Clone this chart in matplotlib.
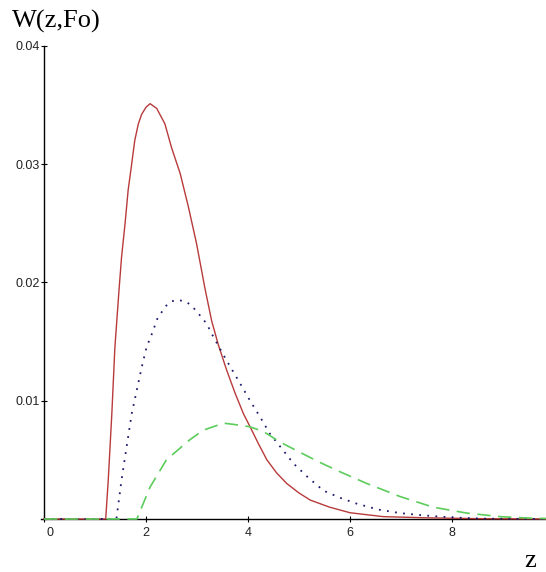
import matplotlib
matplotlib.use("Agg")
import matplotlib.pyplot as plt
import matplotlib.transforms as mtransforms

# curves (z, W)
z_red = [0, 1.21, 1.26, 1.33, 1.39, 1.47, 1.52, 1.59, 1.65, 1.71, 1.78, 1.85,
         1.915, 2.0, 2.08, 2.21, 2.37, 2.50, 2.67, 2.83, 2.99, 3.16, 3.29,
         3.42, 3.58, 3.75, 3.91, 4.04, 4.20, 4.37, 4.56, 4.76, 5.0, 5.22,
         5.6, 6.0, 6.65, 7.5, 8.5, 10]
w_red = [0, 0, 0.0033, 0.0089, 0.0145, 0.0193, 0.0221, 0.0250, 0.0278,
         0.0297, 0.0320, 0.0334, 0.0342, 0.0348, 0.0351, 0.0347, 0.0334,
         0.0314, 0.0292, 0.0264, 0.0233, 0.0194, 0.0167, 0.0147, 0.0126,
         0.0106, 0.0089, 0.0078, 0.0064, 0.0050, 0.0039, 0.0030, 0.0022,
         0.0016, 0.0010, 0.00053, 0.0002, 0.0001, 0.00003, 0]

z_blue = [0, 1.42, 1.52, 1.62, 1.72, 1.82, 1.92, 2.01, 2.12, 2.22, 2.31, 2.39,
          2.50, 2.63, 2.76, 2.88, 3.06, 3.19, 3.32, 3.58, 3.84, 4.04, 4.24,
          4.43, 4.69, 4.89, 5.18, 5.48, 5.8, 6.13, 6.55, 6.98, 7.46, 7.96,
          8.6, 10]
w_blue = [0, 0, 0.0033, 0.0061, 0.0089, 0.0109, 0.0129, 0.0145, 0.0157,
          0.0169, 0.0175, 0.0180, 0.0184, 0.0185, 0.0184, 0.0181, 0.0172,
          0.0165, 0.0154, 0.0134, 0.0115, 0.0100, 0.0086, 0.0072, 0.0058,
          0.0047, 0.0035, 0.0024, 0.0018, 0.0013, 0.0008, 0.0005, 0.0003,
          0.00014, 0.00003, 0]

z_green = [0, 1.82, 2.08, 2.40, 2.86, 3.12, 3.52, 3.71, 4.03, 4.30, 4.63,
           5.08, 5.45, 5.80, 6.33, 6.98, 7.63, 8.29, 8.94, 9.6, 10.3]
w_green = [0, 0, 0.0027, 0.0050, 0.0067, 0.0075, 0.0081, 0.0080, 0.0078,
           0.0074, 0.0065, 0.0055, 0.0047, 0.0040, 0.0030, 0.0019, 0.0010,
           0.0005, 0.0002, 0.00006, 0.00002]

x_ticks = [0, 2, 4, 6, 8]
y_ticks = [0, 0.01, 0.02, 0.03, 0.04]
y_labels = ["", "0.01", "0.02", "0.03", "0.04"]

W, H = 546, 572
fig = plt.figure(figsize=(W / 100, H / 100), dpi=100)
ax = fig.add_axes([0, 0, 1, 1])
ax.patch.set_alpha(0)

# pixel geometry of the reference: origin at (44, 519), 51 px per unit z,
# 473 px per 0.04 in W
px_x, py_y = 51.0, 473.3 / 0.04
ax.set_xlim(-44 / px_x, (W - 44) / px_x)
ax.set_ylim(-(H - 519) / py_y, 0.04 + 45.7 / py_y)

ax.plot(z_red, w_red, color="#b83a3a", lw=1.0, zorder=3)
ax.plot(z_blue, w_blue, color="#1c1c6e", lw=1.3, ls=(0, (1, 3.5)), zorder=3)
ax.plot(z_green, w_green, color="#5ccc5c", lw=1.2, ls=(0, (8, 4.5)), zorder=3)

for s in ("top", "right"):
    ax.spines[s].set_visible(False)
ax.spines["left"].set_position(("data", 0))
ax.spines["bottom"].set_position(("data", 0))
ax.spines["left"].set_bounds(0, 0.04)
ax.spines["bottom"].set_bounds(-0.05, (W - 44) / px_x)
for s in ("left", "bottom"):
    ax.spines[s].set_linewidth(1.0)
    ax.spines[s].set_zorder(2)

tick_font = {"family": "Liberation Sans", "size": 9}
ax.set_xticks(x_ticks)
ax.set_xticklabels([str(t) for t in x_ticks], fontdict=tick_font)
ax.set_yticks(y_ticks)
ax.set_yticklabels(y_labels, fontdict=tick_font)
ax.tick_params(axis="both", direction="inout", length=5, width=0.8,
               color="black", labelcolor="#222222")
ax.tick_params(axis="x", pad=3)
ax.tick_params(axis="y", pad=0.5)

# Maple nudges the "0" label off the y axis
lab0 = ax.get_xticklabels()[0]
lab0.set_transform(lab0.get_transform() +
                   mtransforms.ScaledTranslation(4 / 72, 0, fig.dpi_scale_trans))

fig.text(12 / W, 1 - 28 / H, "W(z,Fo)", family="Liberation Serif",
         fontsize=19, ha="left", va="baseline")
fig.text(524 / W, 5 / H, "z", family="Liberation Serif",
         fontsize=19, ha="left", va="baseline")

fig.savefig("out.png", dpi=100, facecolor="white")
